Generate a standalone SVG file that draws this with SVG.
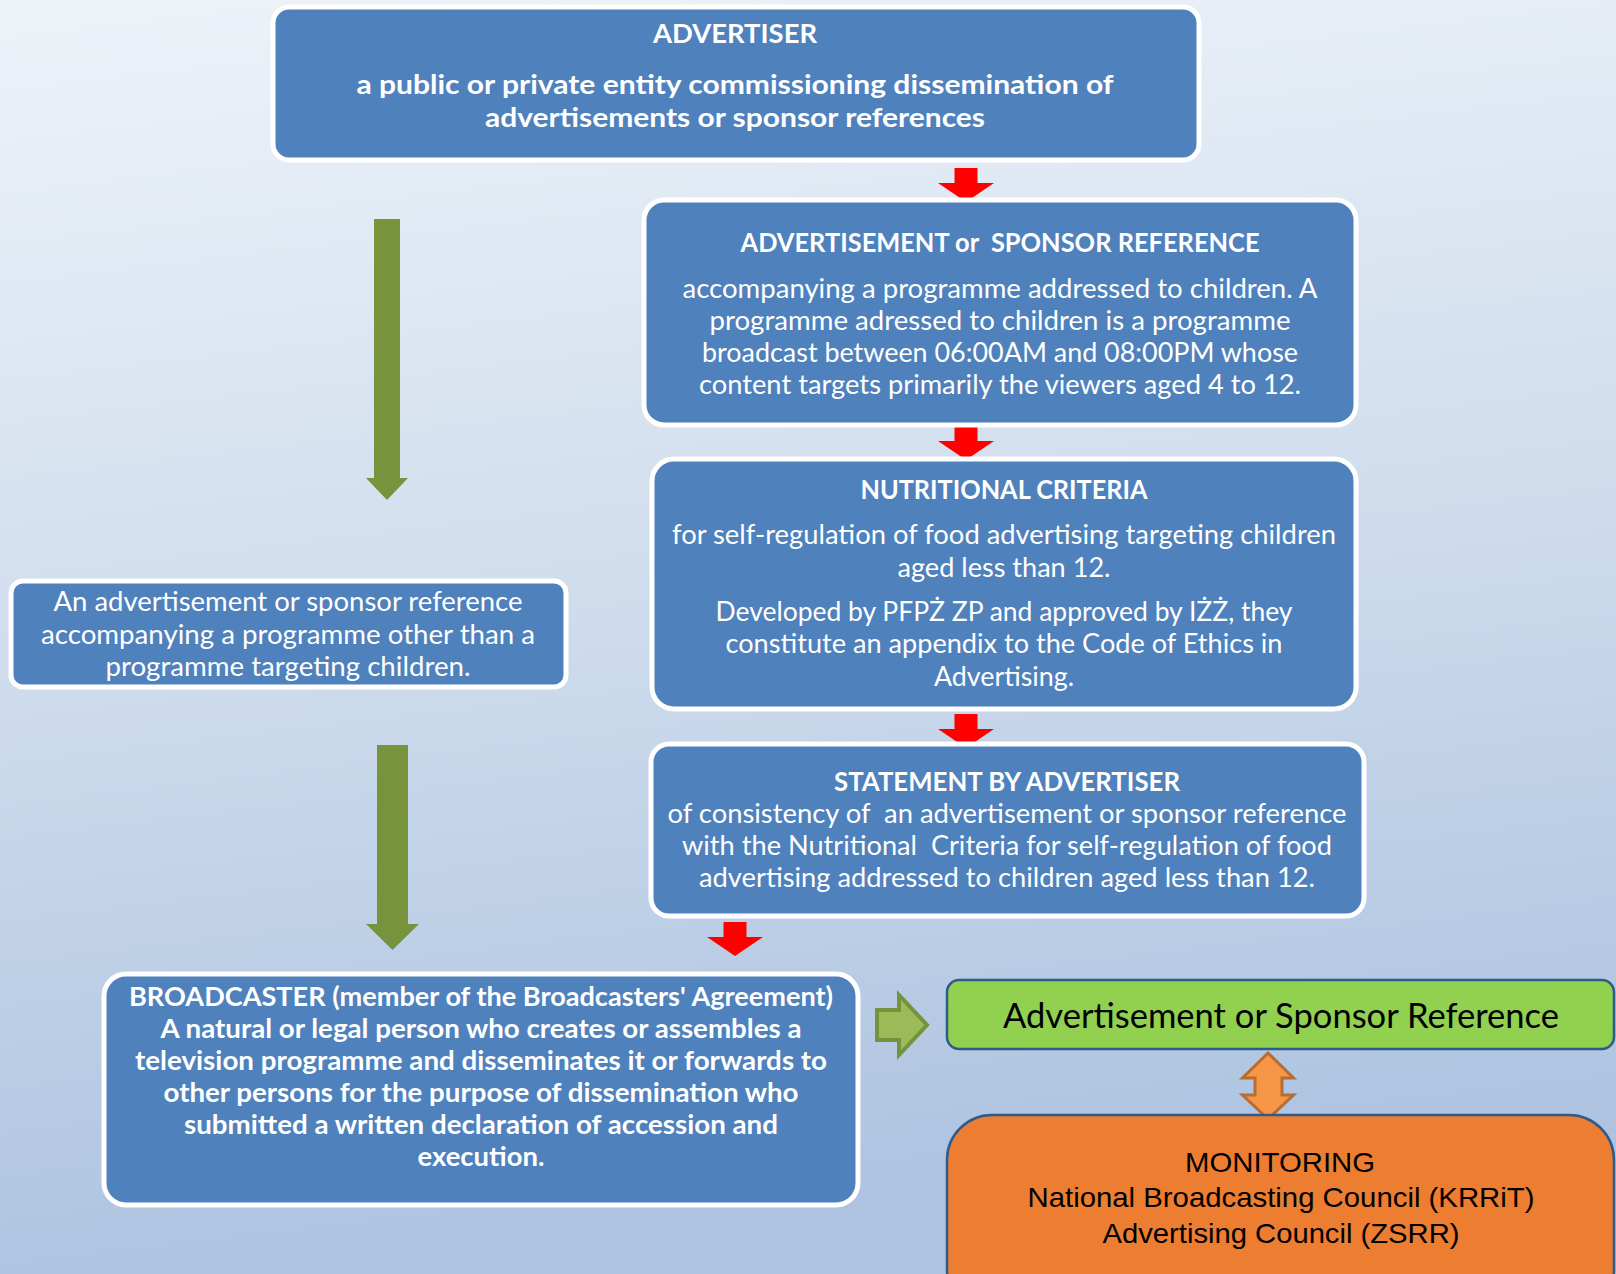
<svg xmlns="http://www.w3.org/2000/svg" width="1616" height="1274" viewBox="0 0 1616 1274">
<defs>
<linearGradient id="bg" x1="0" y1="0" x2="0.15" y2="1">
<stop offset="0" stop-color="#EEF3F9"/>
<stop offset="0.5" stop-color="#D0DDED"/>
<stop offset="1" stop-color="#ADC3E0"/>
</linearGradient>
<style>
.box{fill:#4F81BD;stroke:#FFFFFF;stroke-width:5}
.t{font-family:Lato,"Open Sans","Liberation Sans",sans-serif;fill:#FFFFFF;text-anchor:middle;font-size:26px}
.b{font-weight:bold;font-size:27px}
.red{fill:#FF0000}
.grn{fill:#77933C}
.k{font-family:"Liberation Sans",Arial,sans-serif;fill:#000000;text-anchor:middle;font-size:28px}
.kc{font-family:Lato,"Open Sans",sans-serif;fill:#000000;text-anchor:middle;font-size:35px}
</style>
</defs>
<rect x="0" y="0" width="1616" height="1274" fill="url(#bg)"/>

<g id="connectors">
<path class="red" d="M954.5 168 H977.5 V183 H994 L966 202 L938 183 H954.5 Z"/>
<path class="red" d="M954.5 426 H977.5 V441 H994 L966 460 L938 441 H954.5 Z"/>
<path class="red" d="M954.5 714 H977.5 V729 H994 L966 748 L938 729 H954.5 Z"/>
<path class="red" d="M723.5 922 H746.5 V937 H763 L735 956 L707 937 H723.5 Z"/>
<path class="grn" d="M374 219 H400 V478 H408 L387 500 L366 478 H374 Z"/>
<path class="grn" d="M377 745 H408 V924 H419 L392.5 950 L366 924 H377 Z"/>
<path d="M877 1010 H899 V995 L927 1025 L899 1055 V1040 H877 Z" fill="#9BBB59" stroke="#76923C" stroke-width="4" stroke-linejoin="miter"/>
<path d="M1268 1053 L1293.5 1078 H1282 V1095 H1293.5 L1268 1119 L1242.5 1095 H1255 V1078 H1242.5 Z" fill="#F79646" stroke="#B66D31" stroke-width="3"/>
</g>

<g id="advertiser">
<rect class="box" x="273" y="7" width="926" height="153" rx="16"/>
<text class="t b" x="735" y="43" textLength="164" lengthAdjust="spacingAndGlyphs">ADVERTISER</text>
<text class="t b" x="735" y="94" textLength="757" lengthAdjust="spacingAndGlyphs">a public or private entity commissioning dissemination of</text>
<text class="t b" x="735" y="127" textLength="500" lengthAdjust="spacingAndGlyphs">advertisements or sponsor references</text>
</g>

<g id="ad-sponsor-reference">
<rect class="box" x="644" y="200" width="712" height="225" rx="20"/>
<text class="t b" x="1000" y="252" textLength="519" lengthAdjust="spacingAndGlyphs" style="white-space:pre">ADVERTISEMENT or  SPONSOR REFERENCE</text>
<text class="t" x="1000" y="298" textLength="635" lengthAdjust="spacingAndGlyphs">accompanying a programme addressed to children. A</text>
<text class="t" x="1000" y="330" textLength="581" lengthAdjust="spacingAndGlyphs">programme adressed to children is a programme</text>
<text class="t" x="1000" y="362" textLength="596" lengthAdjust="spacingAndGlyphs">broadcast between 06:00AM and 08:00PM whose</text>
<text class="t" x="1000" y="394" textLength="602" lengthAdjust="spacingAndGlyphs">content targets primarily the viewers aged 4 to 12.</text>
</g>

<g id="nutritional-criteria">
<rect class="box" x="652" y="459" width="704" height="250" rx="22"/>
<text class="t b" x="1004" y="499" textLength="287" lengthAdjust="spacingAndGlyphs">NUTRITIONAL CRITERIA</text>
<text class="t" x="1004" y="544" textLength="664" lengthAdjust="spacingAndGlyphs">for self-regulation of food advertising targeting children</text>
<text class="t" x="1004" y="577" textLength="213" lengthAdjust="spacingAndGlyphs">aged less than 12.</text>
<text class="t" x="1004" y="621" textLength="577" lengthAdjust="spacingAndGlyphs">Developed by PFPŻ ZP and approved by IŻŻ, they</text>
<text class="t" x="1004" y="653" textLength="557" lengthAdjust="spacingAndGlyphs">constitute an appendix to the Code of Ethics in</text>
<text class="t" x="1004" y="686" textLength="140" lengthAdjust="spacingAndGlyphs">Advertising.</text>
</g>

<g id="statement">
<rect class="box" x="651" y="744" width="713" height="172" rx="18"/>
<text class="t b" x="1007" y="791" textLength="346" lengthAdjust="spacingAndGlyphs">STATEMENT BY ADVERTISER</text>
<text class="t" x="1007" y="823" textLength="679" lengthAdjust="spacingAndGlyphs" style="white-space:pre">of consistency of  an advertisement or sponsor reference</text>
<text class="t" x="1007" y="855" textLength="650" lengthAdjust="spacingAndGlyphs" style="white-space:pre">with the Nutritional  Criteria for self-regulation of food</text>
<text class="t" x="1007" y="887" textLength="616" lengthAdjust="spacingAndGlyphs">advertising addressed to children aged less than 12.</text>
</g>

<g id="other-programme">
<rect class="box" x="11" y="581" width="555" height="106" rx="12"/>
<text class="t" x="288" y="611" textLength="469" lengthAdjust="spacingAndGlyphs">An advertisement or sponsor reference</text>
<text class="t" x="288" y="644" textLength="494" lengthAdjust="spacingAndGlyphs">accompanying a programme other than a</text>
<text class="t" x="288" y="676" textLength="365" lengthAdjust="spacingAndGlyphs">programme targeting children.</text>
</g>

<g id="broadcaster">
<rect class="box" x="104" y="974" width="754" height="231" rx="22"/>
<text class="t b" x="481" y="1006" textLength="704" lengthAdjust="spacingAndGlyphs">BROADCASTER (member of the Broadcasters' Agreement)</text>
<text class="t b" x="481" y="1038" textLength="641" lengthAdjust="spacingAndGlyphs">A natural or legal person who creates or assembles a</text>
<text class="t b" x="481" y="1070" textLength="692" lengthAdjust="spacingAndGlyphs">television programme and disseminates it or forwards to</text>
<text class="t b" x="481" y="1102" textLength="635" lengthAdjust="spacingAndGlyphs">other persons for the purpose of dissemination who</text>
<text class="t b" x="481" y="1134" textLength="594" lengthAdjust="spacingAndGlyphs">submitted a written declaration of accession and</text>
<text class="t b" x="481" y="1166" textLength="127" lengthAdjust="spacingAndGlyphs">execution.</text>
</g>

<g id="ad-sponsor-box">
<rect x="947" y="980" width="667" height="69" rx="12" fill="#92D050" stroke="#2E5B8A" stroke-width="2.5"/>
<text class="kc" x="1281" y="1028" textLength="556" lengthAdjust="spacingAndGlyphs">Advertisement or Sponsor Reference</text>
</g>

<g id="monitoring">
<rect x="947" y="1115" width="667" height="200" rx="45" fill="#ED7D31" stroke="#2E5B8A" stroke-width="2.5"/>
<text class="k" x="1280" y="1172" textLength="190" lengthAdjust="spacingAndGlyphs">MONITORING</text>
<text class="k" x="1281" y="1207" textLength="507" lengthAdjust="spacingAndGlyphs">National Broadcasting Council (KRRiT)</text>
<text class="k" x="1281" y="1243" textLength="357" lengthAdjust="spacingAndGlyphs">Advertising Council (ZSRR)</text>
</g>
</svg>
